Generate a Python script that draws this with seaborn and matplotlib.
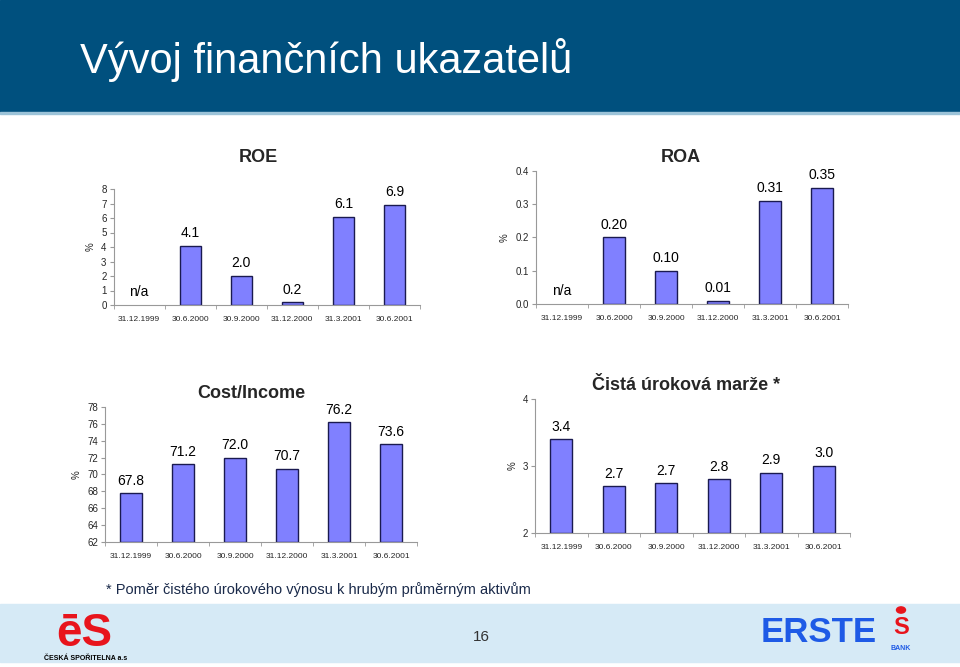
import numpy as np
import pandas as pd
import seaborn as sns
import matplotlib.pyplot as plt
from matplotlib.patches import Rectangle, Circle

sns.set_style("white")
plt.rcParams['font.family'] = ['Liberation Sans', 'DejaVu Sans']

datumy = ["31.12.1999", "30.6.2000", "30.9.2000", "31.12.2000", "31.3.2001", "30.6.2001"]
roe = [None, 4.1, 2.0, 0.2, 6.1, 6.9]
roa = [None, 0.20, 0.10, 0.01, 0.31, 0.35]
cost_income = [67.8, 71.2, 72.0, 70.7, 76.2, 73.6]
marze = [3.4, 2.7, 2.74, 2.8, 2.9, 3.0]

W, H = 960, 667
fig = plt.figure(figsize=(W / 100, H / 100), dpi=100)


def rect(l, r, t, b):
    return [l / W, 1 - b / H, (r - l) / W, (b - t) / H]


def graf(pos, hodnoty, nazev, tpos, ylim, yticks, fmt, tickfmt):
    ax = fig.add_axes(rect(*pos))
    df = pd.DataFrame({"datum": datumy,
                       "hodnota": [0 if v is None else v for v in hodnoty]})
    sns.barplot(data=df, x="datum", y="hodnota", order=datumy, color="#8080FF",
                width=0.41, edgecolor="#1a1a50", linewidth=1.0, saturation=1,
                ax=ax)
    base = ylim[0]
    for p, v in zip(ax.patches, hodnoty):
        if base > 0:
            p.set_y(base)
            p.set_height((0 if v is None else v) - base)
        if v is None:
            p.set_visible(False)
    for i, v in enumerate(hodnoty):
        txt = "n/a" if v is None else fmt.format(v)
        y = base if v is None else v
        ax.annotate(txt, (i, y), xytext=(0, 4), textcoords="offset points",
                    ha="center", va="bottom", fontsize=10, color="black")
    ax.set_ylim(*ylim)
    ax.set_xlim(-0.5, 5.5)
    ax.set_yticks(yticks)
    ax.set_yticklabels([tickfmt.format(t) for t in yticks])
    ax.set_xticks(range(len(datumy)))
    ax.set_xticklabels(datumy, fontsize=6)
    ax.set_xticks(np.arange(-0.5, 6, 1), minor=True)
    ax.tick_params(axis="x", which="major", length=0, pad=8)
    ax.tick_params(axis="x", which="minor", length=3, color="#999999",
                   direction="out", bottom=True)
    ax.tick_params(axis="y", length=3, color="#999999", direction="out",
                   labelsize=7, left=True, pad=2)
    for s in ["top", "right"]:
        ax.spines[s].set_visible(False)
    for s in ["left", "bottom"]:
        ax.spines[s].set_color("#999999")
        ax.spines[s].set_linewidth(0.8)
    ax.set_xlabel("")
    ax.set_ylabel("%", fontsize=7, labelpad=4)
    ax.patch.set_alpha(0)
    fig.text(tpos[0] / W, 1 - tpos[1] / H, nazev, ha="center", va="center",
             fontsize=13, fontweight="bold")
    return ax


# hlavicka
fig.patches.append(Rectangle((0, 1 - 112 / H), 1, 112 / H, transform=fig.transFigure,
                             color="#00507E", zorder=0))
fig.patches.append(Rectangle((0, 1 - 114 / H), 1, 2 / H, transform=fig.transFigure,
                             color="#9CC3D8", zorder=0))
fig.text(80 / W, 1 - 60 / H, "Vývoj finančních ukazatelů", color="white",
         fontsize=30, ha="left", va="center")

graf((113.5, 420, 189, 305), roe, "ROE", (258, 157), (0, 8), list(range(0, 9)),
     "{:.1f}", "{:d}")
graf((536, 848, 171, 304), roa, "ROA", (681, 157), (0, 0.4),
     [0.0, 0.1, 0.2, 0.3, 0.4], "{:.2f}", "{:.1f}")
graf((105, 417, 407, 542), cost_income, "Cost/Income", (251, 393), (62, 78),
     list(range(62, 79, 2)), "{:.1f}", "{:d}")
graf((535, 850, 399, 533), marze, "Čistá úroková marže *", (686, 386), (2, 4),
     [2, 3, 4], "{:.1f}", "{:d}")

fig.text(106 / W, 1 - 590 / H, "* Poměr čistého úrokového výnosu k hrubým průměrným aktivům",
         fontsize=10.5, color="#1a2a4a", ha="left", va="center")

# paticka
fig.patches.append(Rectangle((0, 1 - 662 / H), 1, 58 / H, transform=fig.transFigure,
                             color="#D6EAF6", zorder=0))
fig.text(481 / W, 1 - 637 / H, "16", fontsize=11, color="#333333",
         ha="center", va="center")
fig.text(84 / W, 1 - 634 / H, "ēS", fontsize=33, fontweight="bold", color="#E8141C",
         ha="center", va="center")
fig.text(44 / W, 1 - 658 / H, "ČESKÁ SPOŘITELNA a.s", fontsize=5, fontweight="bold",
         color="black", ha="left", va="center")
fig.text(819 / W, 1 - 632 / H, "ERSTE", fontsize=25, fontweight="bold", color="#1E5AE6",
         ha="center", va="center")
fig.patches.append(Circle((901 / W, 1 - 610 / H), 4.5 / W, transform=fig.transFigure,
                          color="#E8141C"))
fig.text(901 / W, 1 - 628 / H, "S", fontsize=17, fontweight="bold", color="#E8141C",
         ha="center", va="center")
fig.text(901 / W, 1 - 649 / H, "BANK", fontsize=5, fontweight="bold", color="#1E5AE6",
         ha="center", va="center")

fig.savefig("out.png", dpi=100)
